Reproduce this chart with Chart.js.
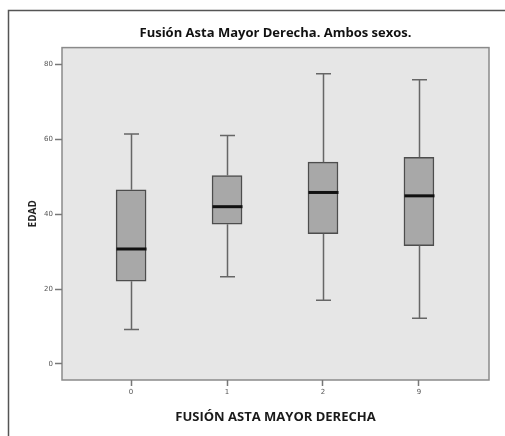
<!DOCTYPE html>
<html>
<head>
<meta charset="utf-8">
<script src="https://cdn.jsdelivr.net/npm/chart.js@4"></script>
<style>
  html, body { margin: 0; padding: 0; background: #fff; }
  #wrap { position: relative; width: 505px; height: 436px; }
</style>
</head>
<body>
<div id="wrap"><canvas id="chart" width="505" height="436"></canvas></div>
<script>
// datos (edad por grado de fusion)
const categories = ['0', '1', '2', '9'];
const whiskerLow = [9.2, 23.3, 17.0, 12.2];
const q1 = [22.1, 37.3, 34.8, 31.6];
const median = [30.7, 42.0, 45.8, 44.9];
const q3 = [46.5, 50.3, 53.9, 55.2];
const whiskerHigh = [61.4, 61.0, 77.5, 75.9];
const yTicks = [0, 20, 40, 60, 80];

const BOX_WIDTH = 30;
const CAP_WIDTH = 15;

// fondo gris, marco exterior, bigotes y medianas
const boxPlotPlugin = {
  id: 'boxPlot',
  beforeDraw(chart) {
    const { ctx, chartArea: a } = chart;
    ctx.save();
    ctx.strokeStyle = '#555';
    ctx.lineWidth = 1.5;
    ctx.beginPath();
    ctx.moveTo(8.5, 436);
    ctx.lineTo(8.5, 10.5);
    ctx.lineTo(505, 10.5);
    ctx.stroke();

    ctx.fillStyle = '#e6e6e6';
    ctx.fillRect(a.left, a.top, a.width, a.height);
    ctx.strokeStyle = '#8a8a8a';
    ctx.lineWidth = 1.5;
    ctx.strokeRect(a.left, a.top, a.width, a.height);
    ctx.restore();
  },
  afterDatasetsDraw(chart) {
    const { ctx, scales: { x, y } } = chart;
    ctx.save();
    categories.forEach((c, i) => {
      const cx = Math.round(x.getPixelForValue(i)) + 0.5;
      const yLow = y.getPixelForValue(whiskerLow[i]);
      const yQ1 = y.getPixelForValue(q1[i]);
      const yQ3 = y.getPixelForValue(q3[i]);
      const yHigh = y.getPixelForValue(whiskerHigh[i]);
      const yMed = y.getPixelForValue(median[i]);

      ctx.strokeStyle = '#666';
      ctx.lineWidth = 1.5;
      ctx.beginPath();
      ctx.moveTo(cx, yQ3); ctx.lineTo(cx, yHigh);
      ctx.moveTo(cx, yQ1); ctx.lineTo(cx, yLow);
      ctx.moveTo(cx - CAP_WIDTH / 2, yHigh); ctx.lineTo(cx + CAP_WIDTH / 2, yHigh);
      ctx.moveTo(cx - CAP_WIDTH / 2, yLow); ctx.lineTo(cx + CAP_WIDTH / 2, yLow);
      ctx.stroke();

      ctx.strokeStyle = '#111';
      ctx.lineWidth = 3;
      ctx.beginPath();
      ctx.moveTo(cx - BOX_WIDTH / 2, yMed);
      ctx.lineTo(cx + BOX_WIDTH / 2, yMed);
      ctx.stroke();
    });
    ctx.restore();
  }
};

const boxData = categories.map((c, i) => ({ x: i, y: [q1[i], q3[i]] }));

new Chart(document.getElementById('chart'), {
  type: 'bar',
  data: {
    datasets: [{
      data: boxData,
      backgroundColor: '#a8a8a8',
      borderColor: '#4d4d4d',
      borderWidth: 1.5,
      borderSkipped: false,
      barThickness: BOX_WIDTH
    }]
  },
  options: {
    responsive: false,
    animation: false,
    layout: { padding: { left: 0, right: 16, top: 0, bottom: 0 } },
    plugins: {
      legend: { display: false },
      tooltip: { enabled: false },
      title: {
        display: true,
        text: 'Fusión Asta Mayor Derecha. Ambos sexos.',
        fullSize: false,
        color: '#111',
        font: { family: 'Open Sans', size: 13, weight: 'bold' },
        padding: { top: 25, bottom: 7 }
      }
    },
    scales: {
      x: {
        type: 'linear',
        offset: false,
        min: -0.72,
        max: 3.73,
        afterBuildTicks: s => { s.ticks = categories.map((c, i) => ({ value: i })); },
        afterFit: s => { s.height = 56; },
        ticks: {
          callback: (v, idx) => categories[idx],
          color: '#555',
          font: { family: 'DejaVu Sans', size: 7 },
          padding: 2,
          maxRotation: 0
        },
        grid: { offset: false, drawOnChartArea: false, drawTicks: true, tickLength: 6, tickColor: '#777', tickWidth: 1.5 },
        border: { display: false },
        title: {
          display: true,
          text: 'FUSIÓN ASTA MAYOR DERECHA',
          color: '#1a1a1a',
          font: { family: 'Open Sans', size: 13, weight: 'bold' },
          padding: { top: 0, bottom: 11 }
        }
      },
      y: {
        min: -4.3,
        max: 84.5,
        afterBuildTicks: s => { s.ticks = yTicks.map(v => ({ value: v })); },
        afterFit: s => { s.width = 62; },
        ticks: {
          color: '#555',
          font: { family: 'DejaVu Sans', size: 7 },
          padding: 2
        },
        grid: { drawOnChartArea: false, drawTicks: true, tickLength: 7, tickColor: '#777', tickWidth: 1.5 },
        border: { display: false },
        title: {
          display: true,
          text: 'EDAD',
          color: '#222',
          font: { family: 'Open Sans', size: 10, weight: 'bold' },
          padding: { top: 27, bottom: 0 }
        }
      }
    }
  },
  plugins: [boxPlotPlugin]
});
</script>
</body>
</html>
